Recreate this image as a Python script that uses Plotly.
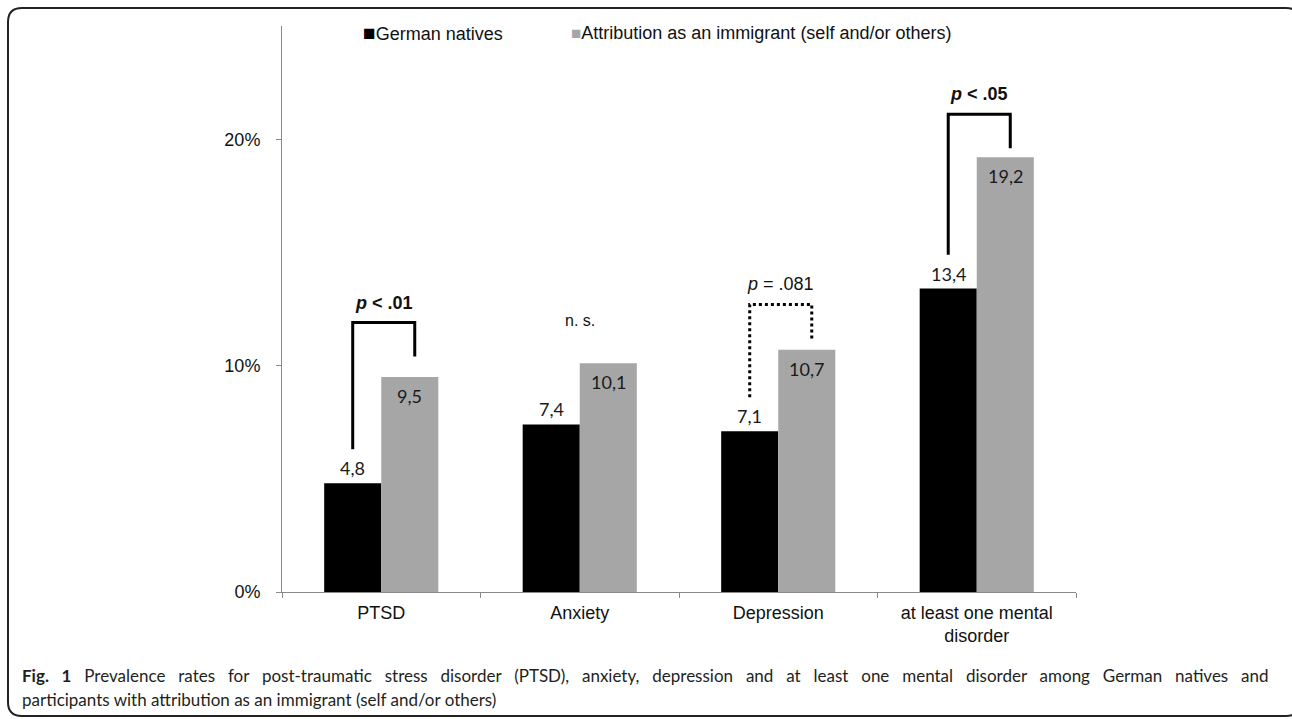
import plotly.graph_objects as go

# ---- data -------------------------------------------------------------
categories = ["PTSD", "Anxiety", "Depression", "at least one mental<br>disorder"]
series_names = ["German natives", "Attribution as an immigrant (self and/or others)"]
german_natives = [4.8, 7.4, 7.1, 13.4]
immigrants = [9.5, 10.1, 10.7, 19.2]
y_tick_values = [0, 10, 20]
y_tick_labels = ["0%", "10%", "20%"]

# significance brackets: category index, label, left leg bottom, right leg bottom, top
sig_index = [0, 2, 3]
sig_labels = ["<b><i>p</i> < .01</b>", "<i>p</i> = .081", "<b><i>p</i> < .05</b>"]
sig_left_bottom = [6.3, 8.6, 14.9]
sig_right_bottom = [10.4, 11.2, 19.6]
sig_top = [11.9, 12.7, 21.1]
sig_dash = ["solid", "dot", "solid"]
ns_index = 1
ns_label = "n. s."
ns_level = 12.0

caption_line1 = ("<b>Fig. 1</b> Prevalence rates for post-traumatic stress disorder (PTSD), anxiety, "
                 "depression and at least one mental disorder among German natives and")
caption_line2 = "participants with attribution as an immigrant (self and/or others)"

# ---- layout geometry ---------------------------------------------------
W, H = 1292, 719
L, R, T, B = 282, 216, 26, 127
PW, PH = W - L - R, H - T - B


def xp(px):
    return (px - L) / PW


def yp(py):
    return (H - B - py) / PH


BLACK = "#000000"
GREY = "#a6a6a6"
AXIS = "#8a8a8a"
FONT = "Liberation Sans, Arial, sans-serif"
NUM_FONT = "Lato, sans-serif"
TEXT = "#111111"

BARGAP = 0.425
half = (1 - BARGAP) / 4  # centre offset of each bar within its category

fig = go.Figure()
fig.add_trace(go.Bar(name=series_names[0], x=categories, y=german_natives,
                     marker=dict(color=BLACK, line=dict(width=0)), showlegend=False))
fig.add_trace(go.Bar(name=series_names[1], x=categories, y=immigrants,
                     marker=dict(color=GREY, line=dict(width=0)), showlegend=False))

annotations = []
# value labels: black bars above the top, grey bars inside near the top
for i, v in enumerate(german_natives):
    annotations.append(dict(x=i - half, y=v, xref="x", yref="y",
                            text=f"{v:.1f}".replace(".", ","), showarrow=False,
                            yanchor="middle", yshift=15,
                            font=dict(family=NUM_FONT, size=18, color="#1a1a1a")))
for i, v in enumerate(immigrants):
    annotations.append(dict(x=i + half, y=v, xref="x", yref="y",
                            text=f"{v:.1f}".replace(".", ","), showarrow=False,
                            yanchor="middle", yshift=-19,
                            font=dict(family=NUM_FONT, size=18, color="#1a1a1a")))

shapes = []
RIGHT_NUDGE = 0.025
for idx, lab, lb, rb, top, dash in zip(sig_index, sig_labels, sig_left_bottom,
                                        sig_right_bottom, sig_top, sig_dash):
    xl = idx - half
    xr = idx + half + RIGHT_NUDGE
    shapes.append(dict(type="path", xref="x", yref="y",
                       path=f"M {xl},{lb} L {xl},{top} L {xr},{top} L {xr},{rb}",
                       line=dict(color=BLACK, width=3, dash=dash)))
    annotations.append(dict(x=(xl + xr) / 2, y=top, xref="x", yref="y", text=lab,
                            showarrow=False, yanchor="middle", yshift=20,
                            font=dict(family=FONT, size=18, color=TEXT)))
annotations.append(dict(x=ns_index, y=ns_level, xref="x", yref="y", text=ns_label,
                        showarrow=False, yanchor="middle",
                        font=dict(family=FONT, size=16, color=TEXT)))

# legend entries drawn as text with square swatches
legend_x = [361, 569]
legend_colors = [BLACK, GREY]
legend_swatch = [21, 17]
for name, lx, col, sw in zip(series_names, legend_x, legend_colors, legend_swatch):
    annotations.append(dict(
        x=xp(lx), y=yp(33), xref="paper", yref="paper", xanchor="left", yanchor="middle",
        showarrow=False,
        text=f'<span style="color:{col};font-size:{sw}px">■</span>{name}',
        font=dict(family=FONT, size=18, color=TEXT)))

# caption (first line set justified to the frame width)
annotations.append(dict(x=xp(20), y=yp(675), xref="paper", yref="paper",
                        text=f'<span style="word-spacing:8.5px">{caption_line1}</span>',
                        showarrow=False, xanchor="left",
                        yanchor="middle", align="left",
                        font=dict(family=NUM_FONT, size=17, color="#231f20")))
annotations.append(dict(x=xp(20), y=yp(699), xref="paper", yref="paper",
                        text=caption_line2, showarrow=False, xanchor="left",
                        yanchor="middle", align="left",
                        font=dict(family=NUM_FONT, size=17, color="#231f20")))

# rounded frame around the figure
x0, x1, y0, y1, r = 8, 1300, 8, 716, 14
pts = [
    ("M", (x0, y0 + r)), ("Q", (x0, y0), (x0 + r, y0)), ("L", (x1 - r, y0)),
    ("Q", (x1, y0), (x1, y0 + r)), ("L", (x1, y1 - r)), ("Q", (x1, y1), (x1 - r, y1)),
    ("L", (x0 + r, y1)), ("Q", (x0, y1), (x0, y1 - r)),
]
path = ""
for cmd, *coords in pts:
    path += cmd + " " + " ".join(f"{xp(cx):.5f},{yp(cy):.5f}" for cx, cy in coords) + " "
path += "Z"
shapes.append(dict(type="path", xref="paper", yref="paper", path=path,
                   line=dict(color="#222222", width=2)))

fig.update_layout(
    width=W, height=H,
    margin=dict(l=L, r=R, t=T, b=B),
    paper_bgcolor="white", plot_bgcolor="white",
    barmode="group", bargap=BARGAP, bargroupgap=0,
    font=dict(family=FONT, size=18, color=TEXT),
    showlegend=False,
    xaxis=dict(type="category", showline=True, linecolor=AXIS, linewidth=1,
               ticks="outside", tickson="boundaries", ticklen=5, tickcolor=AXIS,
               showgrid=False, zeroline=False, ticklabelstandoff=4,
               tickfont=dict(family=FONT, size=18, color=TEXT)),
    yaxis=dict(range=[0, 25], tickvals=y_tick_values, ticktext=y_tick_labels,
               showline=True, linecolor=AXIS, linewidth=1, ticks="outside",
               ticklen=5, tickcolor=AXIS, showgrid=False, zeroline=False,
               ticklabelstandoff=12,
               tickfont=dict(family=FONT, size=18, color=TEXT)),
    annotations=annotations,
    shapes=shapes,
)

fig.write_html("out.html")
